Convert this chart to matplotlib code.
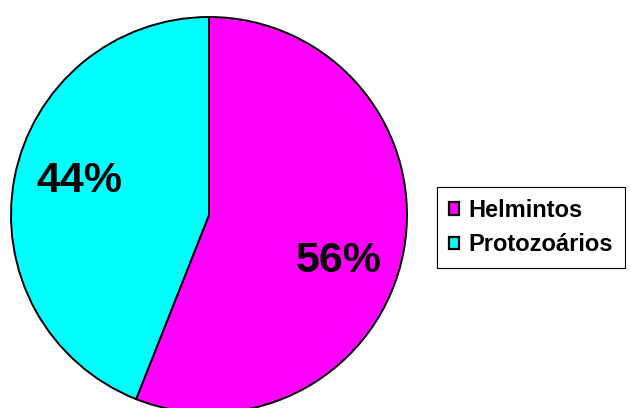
import matplotlib.pyplot as plt
from matplotlib.patches import Patch

# dados do grafico
categorias = ["Helmintos", "Protozoários"]
valores = [56, 44]
cores = ["#FF00FF", "#00FFFF"]

plt.rcParams['font.family'] = ['Liberation Sans', 'DejaVu Sans']

fig = plt.figure(figsize=(6.3, 4.08), dpi=100)
ax = fig.add_axes([0, 0, 1, 1])

fatias, textos, pcts = ax.pie(valores, colors=cores, center=(209, 193), radius=198,
                              startangle=90, counterclock=False,
                              autopct="%1.0f%%", pctdistance=0.69,
                              wedgeprops=dict(edgecolor="black", linewidth=1.4),
                              textprops=dict(fontsize=31, fontweight="bold", color="black"))
# pequenos ajustes na posicao dos rotulos
ajustes = [(-4, -20), (5, 8)]
for t, (dx, dy) in zip(pcts, ajustes):
    x, y = t.get_position()
    t.set_position((x + dx, y + dy))

ax.set_xlim(0, 630)
ax.set_ylim(0, 408)
ax.set_aspect('equal')
ax.axis('off')

# legenda com quadrados de borda preta
handles = [Patch(facecolor=c, edgecolor="black", linewidth=1.6) for c in cores]
leg = fig.legend(handles, categorias, loc="center left",
                 bbox_to_anchor=(437 / 630, (408 - 227.5) / 408),
                 prop=dict(size=17, weight="bold"),
                 handlelength=0.45, handleheight=0.45, handletextpad=0.4,
                 labelspacing=0.5, borderpad=0.5, borderaxespad=0,
                 fancybox=False, framealpha=1)
leg.get_frame().set_edgecolor("black")
leg.get_frame().set_linewidth(0.8)

fig.savefig("out.png", dpi=100)
